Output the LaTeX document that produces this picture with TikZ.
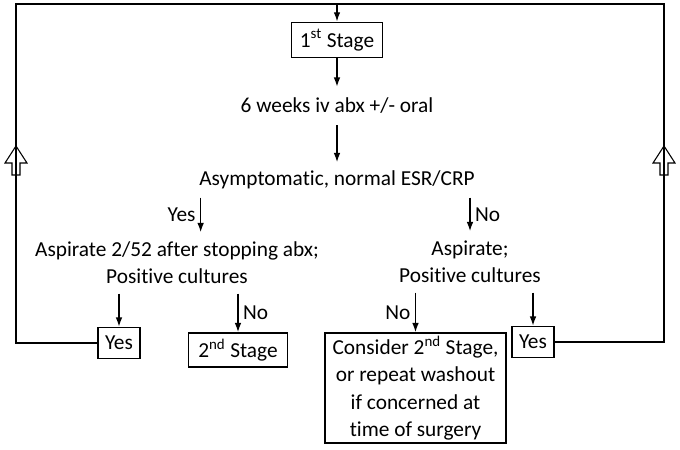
\documentclass[tikz,border=0pt]{standalone}
\usepackage{fontspec}
\setmainfont{Carlito}[Ligatures=NoCommon]
\usetikzlibrary{shapes,arrows.meta}

\begin{document}
\begin{tikzpicture}[x=0.75pt,y=-0.75pt,line width=1.1pt,>={Latex[length=7pt,width=5pt]},
        every node/.style={font=\fontsize{16}{20}\selectfont},
        box/.style={draw,inner sep=0pt},
        txt/.style={inner xsep=0pt,inner ysep=0pt,align=center},
        upblock/.pic={\draw[line width=0.8pt] (-4,15) -- (-4,3) -- (-11,3) -- (0,-14) -- (11,3) -- (4,3) -- (4,15) -- cycle;}]
        \useasboundingbox (0,0) rectangle (680,449);

        \coordinate (lefttop) at (16,4);
        \coordinate (righttop) at (664,4);

        \node[box,minimum width=68pt,minimum height=26.5pt] (stageone) at (337,40) {1\textsuperscript{st} Stage};
        \node[txt,minimum height=27.75pt] (weeks) at (337,106) {6 weeks iv abx +/- oral};
        \node[txt,minimum height=25.5pt] (asym) at (337,180) {Asymptomatic, normal ESR/CRP};
        \node[txt,minimum height=45pt] (aspleft) at (177,263) {Aspirate 2/52 after stopping abx;\\Positive cultures};
        \node[txt,minimum height=45pt] (aspright) at (470,262) {Aspirate;\\Positive cultures};

        \node[box,minimum width=31.5pt,minimum height=23.25pt] (yesleft) at (119,343) {Yes};
        \node[box,minimum width=74.25pt,minimum height=25.5pt] (stagetwo) at (238,350) {2\textsuperscript{nd} Stage};
        \node[box,minimum width=135.75pt,minimum height=82.5pt,align=center,font=\fontsize{16}{20.5}\selectfont] (consider) at (415.5,388) {Consider 2\textsuperscript{nd} Stage,\\or repeat washout\\if concerned at\\time of surgery};
        \node[box,minimum width=31.5pt,minimum height=23.25pt] (yesright) at (533,342) {Yes};

        \draw[->] (stageone.north |- lefttop) -- (stageone.north);
        \draw[->] (stageone.south) -- (weeks.north);
        \draw[->] (weeks.south) -- (asym.north);

        \draw[->] ([xshift=1.5pt]asym.south west) -- ([xshift=1.5pt]asym.south west |- aspleft.north) node[midway,left] {Yes};
        \draw[->] (aspright.north |- asym.south) -- (aspright.north) node[midway,right] {No};

        \draw[->] (yesleft.north |- aspleft.south) -- (yesleft.north);
        \draw[->] (stagetwo.north |- aspleft.south) -- (stagetwo.north) node[midway,right] {No};
        \draw[->] (consider.north |- aspright.south) -- (consider.north) node[midway,left] {No};
        \draw[->] (yesright.north |- aspright.south) -- (yesright.north);

        \draw (yesleft.west) -- (yesleft.west -| lefttop) -- (lefttop) -- (righttop) -- (righttop |- yesright.east) -- (yesright.east);

        \pic at (16,160) {upblock};
        \pic at (664,160) {upblock};
\end{tikzpicture}
\end{document}
